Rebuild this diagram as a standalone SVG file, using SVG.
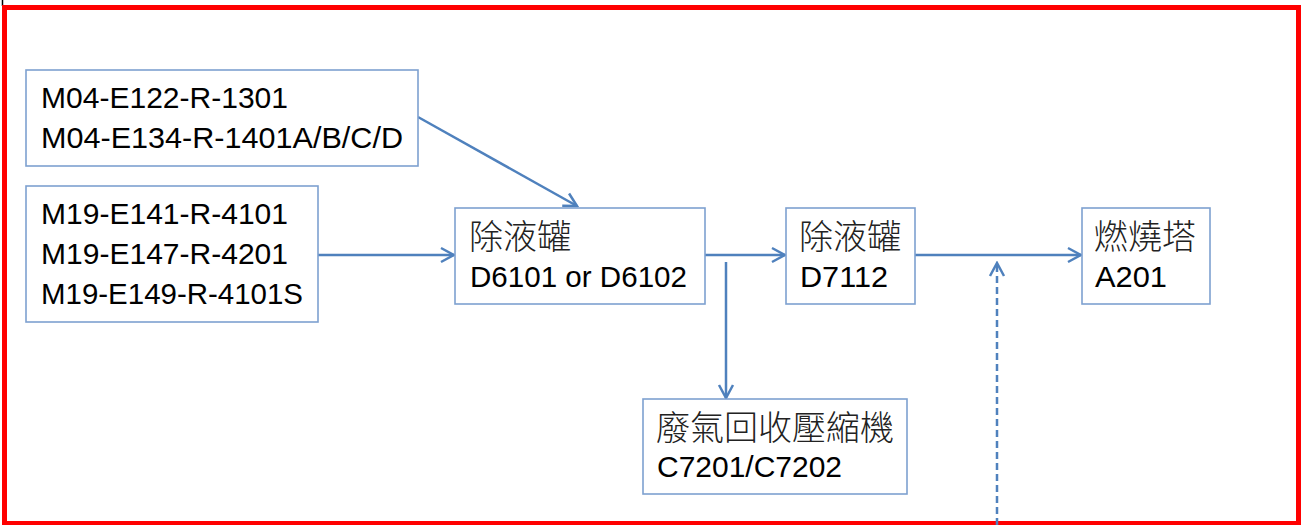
<svg xmlns="http://www.w3.org/2000/svg" width="1301" height="525" viewBox="0 0 1301 525">
<style>
.box{fill:#fff;stroke:#7EA1D0;stroke-width:1.6}
.lat{font-family:"Liberation Sans","Noto Sans CJK TC",sans-serif;font-size:29.5px;fill:#000}
.cjk{font-family:"Noto Sans CJK TC","Noto Sans CJK SC",sans-serif;font-size:34px;fill:#222;font-weight:300}
.ln{fill:none;stroke:#4F81BD;stroke-width:2.5}
</style>
<defs>
<marker id="arr" markerUnits="userSpaceOnUse" viewBox="-15 -9 17 18" refX="0" refY="0" markerWidth="17" markerHeight="18" orient="auto">
<path d="M-13,-7 L0,0 L-13,7" fill="none" stroke="#4F81BD" stroke-width="2.5"/>
</marker>
</defs>
<rect x="0" y="0" width="1301" height="525" fill="#fff"/>
<line x1="2.5" y1="0" x2="2.5" y2="6" stroke="#000" stroke-width="1.5"/>
<rect x="4.5" y="7.5" width="1294" height="516" fill="none" stroke="#FF0000" stroke-width="5"/>
<g id="connectors">
<line class="ln" x1="418" y1="117" x2="577" y2="206" marker-end="url(#arr)"/>
<line class="ln" x1="318" y1="255" x2="454" y2="255" marker-end="url(#arr)"/>
<line class="ln" x1="705" y1="255" x2="785" y2="255" marker-end="url(#arr)"/>
<line class="ln" x1="726" y1="262" x2="726" y2="398" marker-end="url(#arr)"/>
<line class="ln" x1="915" y1="255" x2="1081" y2="255" marker-end="url(#arr)"/>
<line class="ln" x1="997" y1="525" x2="997" y2="263" stroke-dasharray="7,4" marker-end="url(#arr)"/>
</g>
<g id="n1"><rect class="box" x="26" y="70" width="392" height="96"/>
<text class="lat" x="41" y="108" textLength="247" lengthAdjust="spacingAndGlyphs">M04-E122-R-1301</text>
<text class="lat" x="41" y="148" textLength="362" lengthAdjust="spacingAndGlyphs">M04-E134-R-1401A/B/C/D</text></g>
<g id="n2"><rect class="box" x="26" y="186" width="292" height="136"/>
<text class="lat" x="41" y="224" textLength="247" lengthAdjust="spacingAndGlyphs">M19-E141-R-4101</text>
<text class="lat" x="41" y="264" textLength="247" lengthAdjust="spacingAndGlyphs">M19-E147-R-4201</text>
<text class="lat" x="41" y="304" textLength="262" lengthAdjust="spacingAndGlyphs">M19-E149-R-4101S</text></g>
<g id="n3"><rect class="box" x="455" y="208" width="250" height="96"/>
<text class="cjk" x="469" y="249">除液罐</text>
<text class="lat" x="470" y="287" textLength="217" lengthAdjust="spacingAndGlyphs">D6101 or D6102</text></g>
<g id="n4"><rect class="box" x="786" y="208" width="129" height="96"/>
<text class="cjk" x="799" y="249">除液罐</text>
<text class="lat" x="800" y="287" textLength="88" lengthAdjust="spacingAndGlyphs">D7112</text></g>
<g id="n5"><rect class="box" x="1082" y="208" width="128" height="96"/>
<text class="cjk" x="1094" y="249">燃燒塔</text>
<text class="lat" x="1095" y="287" textLength="72" lengthAdjust="spacingAndGlyphs">A201</text></g>
<g id="n6"><rect class="box" x="643" y="399" width="264" height="95"/>
<text class="cjk" x="656" y="440">廢氣回收壓縮機</text>
<text class="lat" x="657" y="477" textLength="185" lengthAdjust="spacingAndGlyphs">C7201/C7202</text></g>
</svg>
